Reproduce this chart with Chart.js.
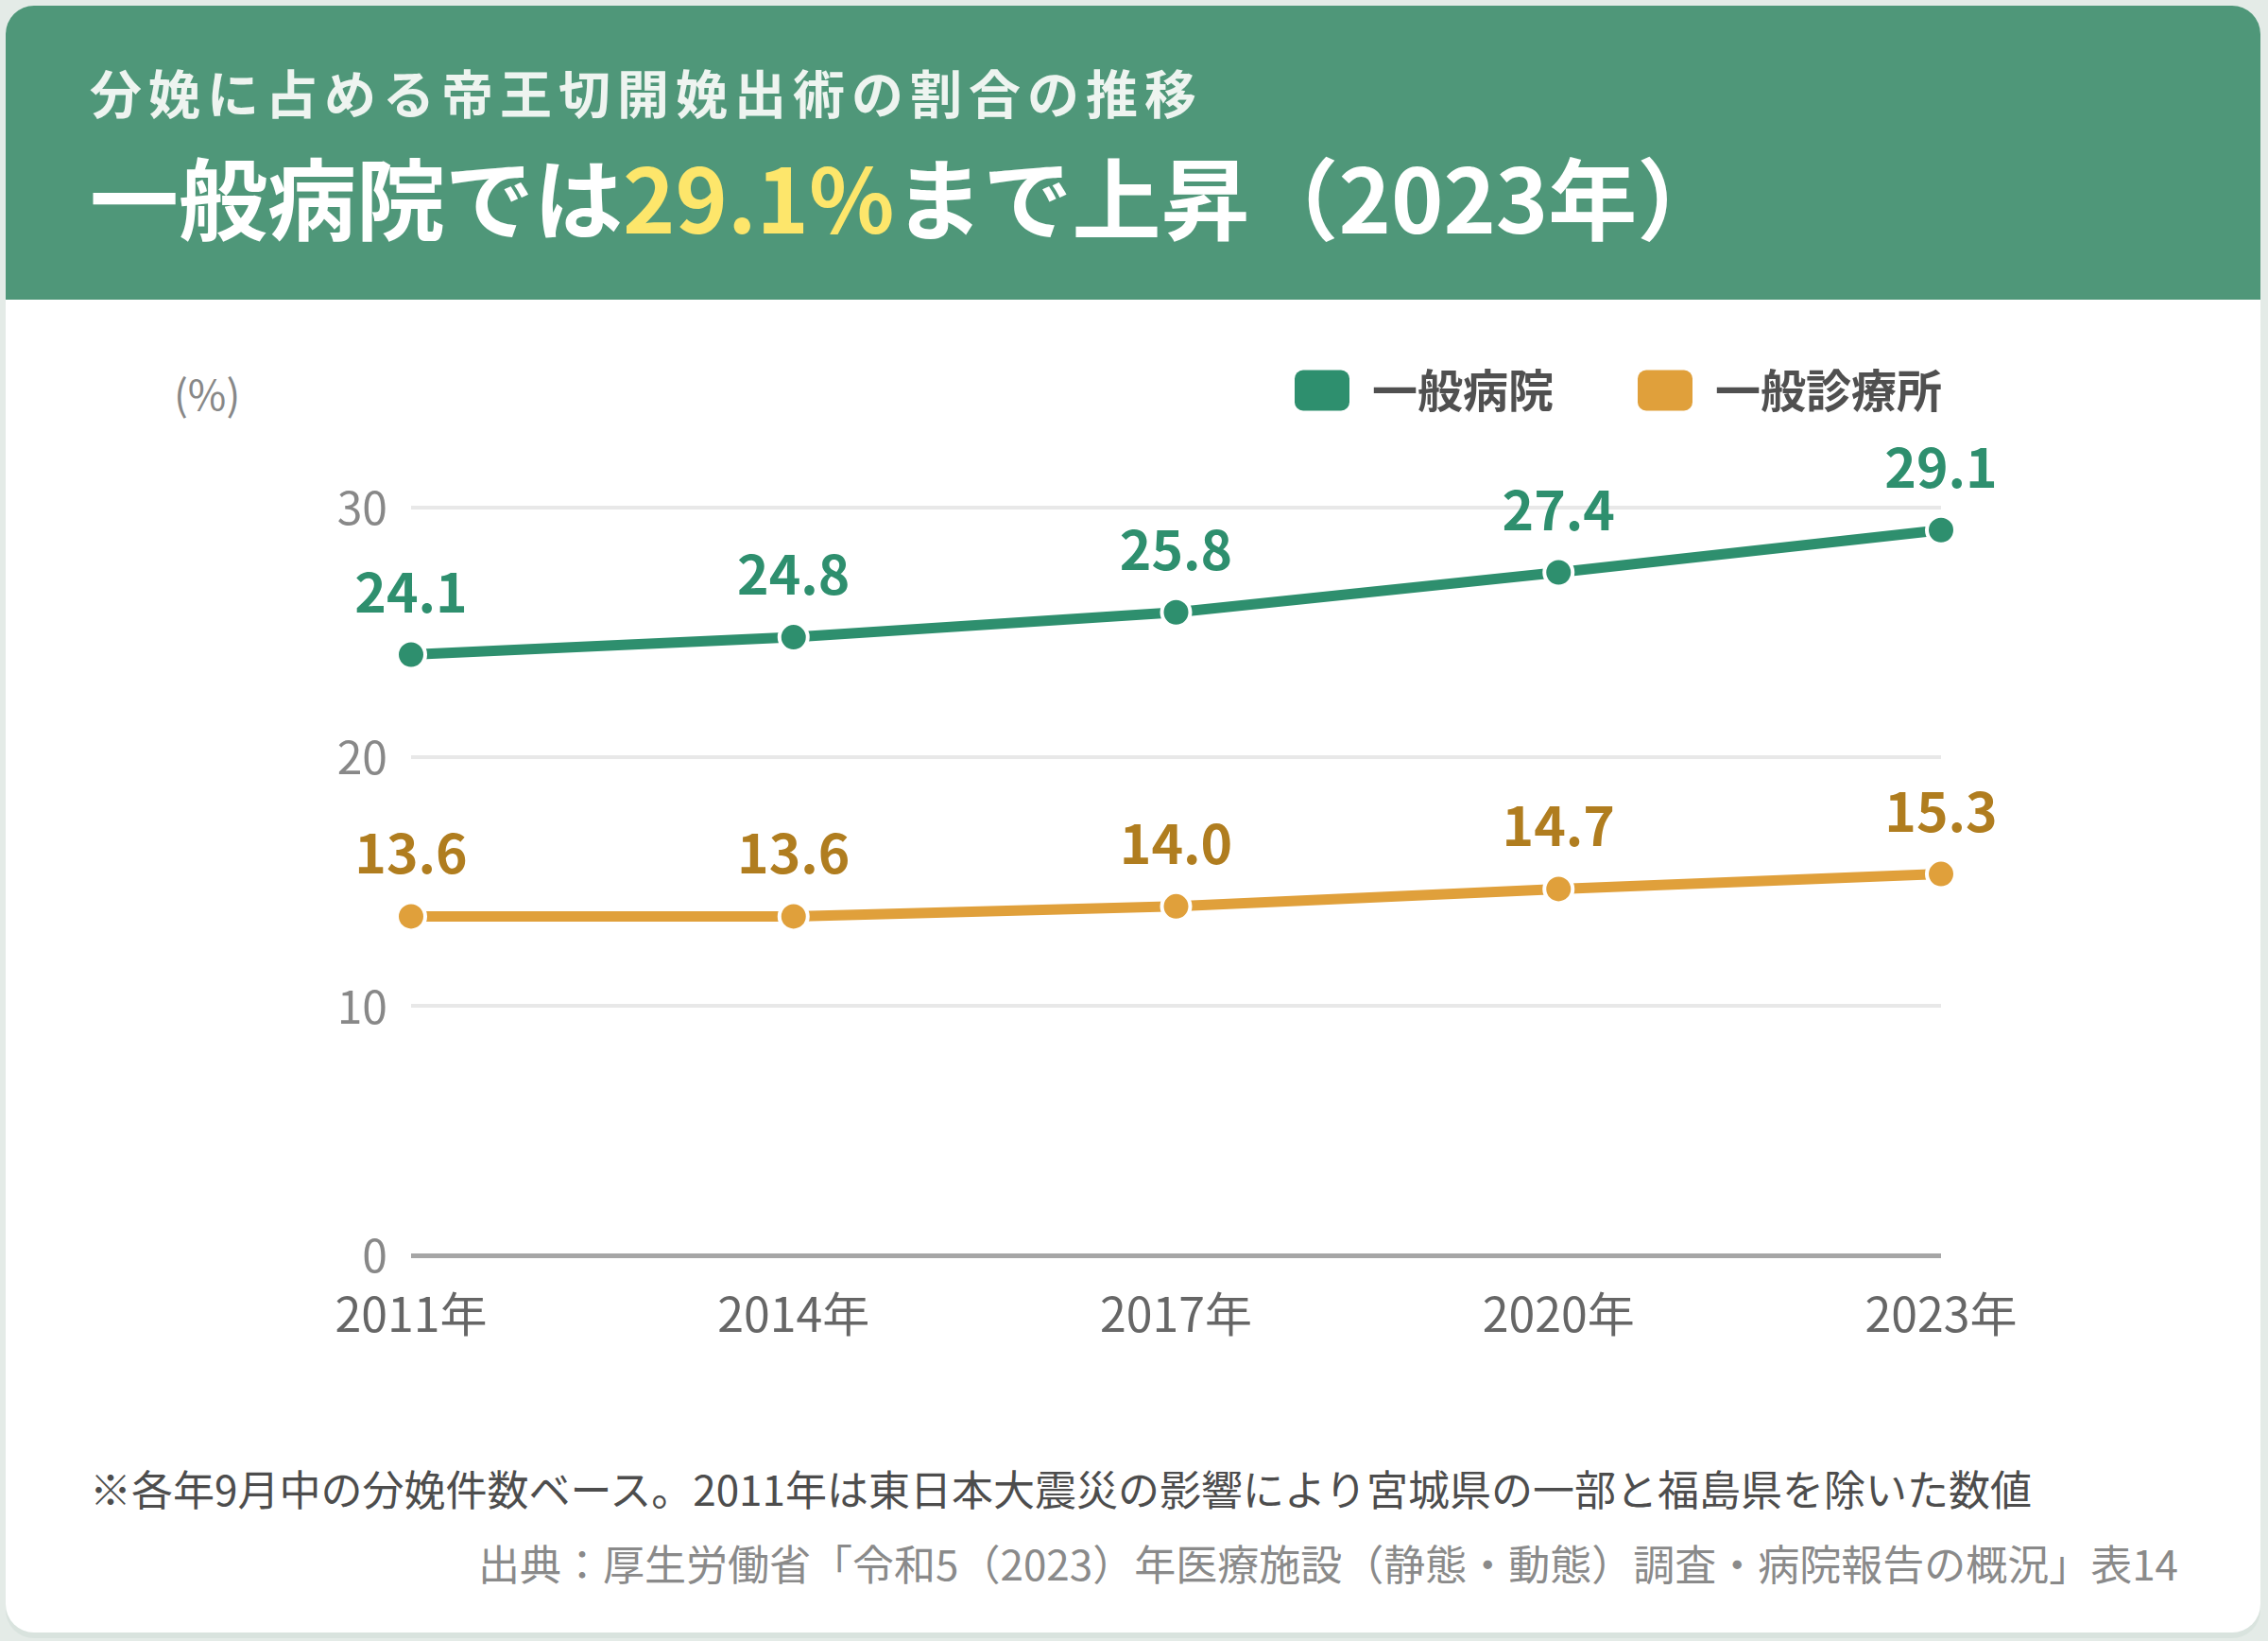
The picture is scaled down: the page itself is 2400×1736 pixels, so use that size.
<!DOCTYPE html>
<html lang="ja">
<head>
<meta charset="utf-8">
<title>分娩に占める帝王切開娩出術の割合の推移</title>
<script src="https://cdn.jsdelivr.net/npm/chart.js@4.4.1/dist/chart.umd.min.js"></script>
<style>
html, body { margin: 0; padding: 0; }
body {
  width: 2400px; height: 1736px; position: relative; overflow: hidden;
  background: #e4ebe7;
  font-family: 'Noto Sans CJK JP', 'Noto Sans', sans-serif;
}
.card {
  position: absolute; left: 6px; top: 6px; width: 2386px; height: 1721px;
  background: #fff; border-radius: 30px; overflow: hidden;
  box-shadow: 0 6px 0 #d9e3de;
}
.head { position: absolute; left: 0; top: 0; width: 100%; height: 311px; background: #4f9779; }
.sub {
  position: absolute; left: 89px; top: 63px; font-size: 55px; font-weight: 700;
  letter-spacing: 7px; color: #eef4f0; line-height: 1; white-space: nowrap;
}
.title {
  position: absolute; left: 89px; top: 153px; font-size: 94px; font-weight: 700;
  color: #fff; line-height: 1; white-space: nowrap;
}
.title span { color: #fde66b; }
.unit {
  position: absolute; left: 178px; top: 387px; font-size: 44px; color: #888;
  line-height: 1; white-space: nowrap;
}
.chartbox { position: absolute; left: 0; top: 294px; width: 2138px; height: 1148px; }
.note {
  position: absolute; left: 89px; top: 1546px; font-size: 44px; color: #4d4d4d;
  line-height: 1; white-space: nowrap;
}
.src {
  position: absolute; right: 87px; top: 1625px; font-size: 44px; color: #8a8a8a;
  line-height: 1; white-space: nowrap;
}
</style>
</head>
<body>
<div class="card">
  <div class="head">
    <div class="sub">分娩に占める帝王切開娩出術の割合の推移</div>
    <div class="title">一般病院では<span>29.1%</span>まで上昇（2023年）</div>
  </div>
  <div class="unit">(%)</div>
  <div class="chartbox"><canvas id="c"></canvas></div>
  <div class="note">※各年9月中の分娩件数ベース。2011年は東日本大震災の影響により宮城県の一部と福島県を除いた数値</div>
  <div class="src">出典：厚生労働省「令和5（2023）年医療施設（静態・動態）調査・病院報告の概況」表14</div>
</div>
<script>
// data
const years = ['2011年', '2014年', '2017年', '2020年', '2023年'];
const seriesNames = ['一般病院', '一般診療所'];
const hospital = [24.1, 24.8, 25.8, 27.4, 29.1];
const clinic = [13.6, 13.6, 14.0, 14.7, 15.3];
const yTicks = [0, 10, 20, 30];

const lineColors = ['#2e8f6e', '#e0a03b'];
const labelColors = ['#2e8f6e', '#b07d1f'];
const FONT = "'Noto Sans CJK JP', 'Noto Sans', sans-serif";

Chart.defaults.font.family = FONT;

// value labels above each point
const valueLabels = {
  id: 'valueLabels',
  afterDatasetsDraw(chart) {
    const ctx = chart.ctx;
    ctx.save();
    ctx.font = '700 57px ' + FONT;
    ctx.textAlign = 'center';
    ctx.textBaseline = 'alphabetic';
    chart.data.datasets.forEach((ds, i) => {
      const meta = chart.getDatasetMeta(i);
      ctx.fillStyle = labelColors[i];
      meta.data.forEach((pt, j) => {
        ctx.fillText(ds.data[j].toFixed(1), pt.x, pt.y - 45);
      });
    });
    ctx.restore();
  }
};

function lineSet(label, data, color) {
  return {
    label: label,
    data: data,
    xAxisID: 'x',
    yAxisID: 'y',
    borderColor: color,
    backgroundColor: color,
    borderWidth: 11,
    tension: 0,
    clip: false,
    pointRadius: 15,
    pointHoverRadius: 15,
    pointBackgroundColor: color,
    pointBorderColor: '#fff',
    pointBorderWidth: 4
  };
}

new Chart(document.getElementById('c'), {
  type: 'line',
  data: {
    labels: years,
    datasets: [
      lineSet(seriesNames[0], hospital, lineColors[0]),
      lineSet(seriesNames[1], clinic, lineColors[1])
    ]
  },
  options: {
    responsive: true,
    maintainAspectRatio: false,
    animation: false,
    devicePixelRatio: 1,
    layout: { padding: 0 },
    plugins: {
      tooltip: { enabled: false },
      legend: {
        position: 'top',
        align: 'end',
        labels: {
          boxWidth: 58,
          boxHeight: 43,
          useBorderRadius: true,
          borderRadius: 9,
          padding: 89,
          color: '#505050',
          font: { size: 48, weight: '700' },
          generateLabels(chart) {
            const items = Chart.defaults.plugins.legend.labels.generateLabels(chart);
            items.forEach(it => { it.lineWidth = 0; });
            return items;
          }
        }
      }
    },
    scales: {
      x: {
        type: 'category',
        offset: false,
        grid: { display: false },
        border: { display: false },
        ticks: {
          color: '#666',
          font: { size: 50 },
          padding: 24,
          maxRotation: 0,
          autoSkip: false
        },
        afterFit(s) {
          s.height = 120;
          s.paddingLeft = 0;
          s.paddingRight = 0;
        }
      },
      y: {
        type: 'linear',
        min: 0,
        max: 30,
        grid: {
          drawTicks: false,
          color: c => (c.tick && c.tick.value === 0 ? '#a6a6a6' : '#e8e8e8'),
          lineWidth: c => (c.tick && c.tick.value === 0 ? 5 : 4)
        },
        border: { display: false },
        afterBuildTicks(s) { s.ticks = yTicks.map(v => ({ value: v })); },
        ticks: {
          color: '#888',
          font: { size: 48 },
          padding: 25
        },
        afterFit(s) { s.width = 429; }
      },
      // spacer axes that set the gap to the legend and the right margin
      gapTop: {
        type: 'linear',
        position: 'top',
        grid: { display: false },
        border: { display: false },
        ticks: { display: false },
        afterFit(s) { s.height = 90; }
      },
      gapRight: {
        type: 'linear',
        position: 'right',
        grid: { display: false },
        border: { display: false },
        ticks: { display: false },
        afterFit(s) { s.width = 90; }
      }
    }
  },
  plugins: [valueLabels]
});
</script>
</body>
</html>
